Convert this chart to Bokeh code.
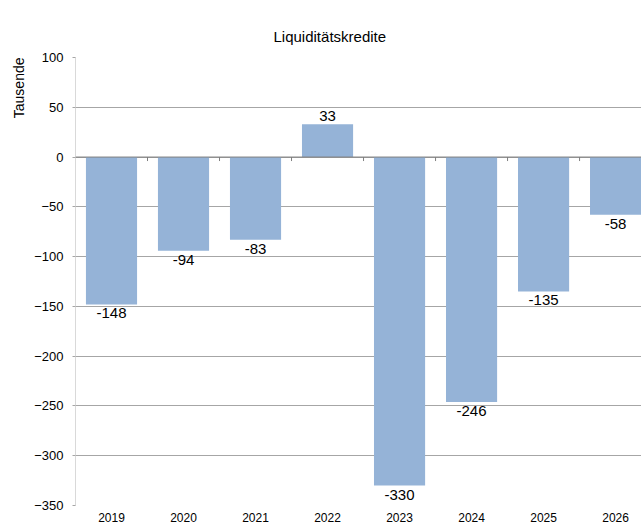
import numpy as np
from bokeh.plotting import figure
from bokeh.models import ColumnDataSource, Range1d, LabelSet, Span, FixedTicker, Title
from bokeh.core.properties import value
from bokeh.embed import file_html
from bokeh.resources import INLINE

title_text = "Liquiditätskredite"
y_label = "Tausende"
years = ["2019", "2020", "2021", "2022", "2023", "2024", "2025", "2026"]
values = [-148, -94, -83, 33, -330, -246, -135, -58]
y_ticks = [-350, -300, -250, -200, -150, -100, -50, 0, 50, 100]

FONT = "Liberation Sans"
BAR = "#95b3d7"
GRID = "#a6a6a6"

xs = np.arange(len(years))
vals = np.array(values)
src = ColumnDataSource(dict(
    x=xs, v=vals, lab=[str(v) for v in values],
    base=["top" if v < 0 else "bottom" for v in values],
    off=[-4 if v < 0 else 3 for v in values],
))

p = figure(output_backend="svg", toolbar_location=None,
           frame_width=566, frame_height=448,
           min_border_left=75, min_border_top=57, min_border_right=0, min_border_bottom=0,
           x_range=Range1d(-0.5, 7.36), y_range=Range1d(-350, 100),
           background_fill_color="white", border_fill_color="white")
p.outline_line_color = None

p.title.text = title_text
p.title.align = "left"
p.title.offset = 198
p.title.standoff = 26
p.title.text_font = FONT
p.title.text_font_size = "15px"
p.title.text_font_style = "normal"
p.title.text_color = "#000000"

p.add_layout(Title(text=y_label, align="right", offset=0, text_font=FONT,
                   text_font_size="14px", text_font_style="normal", text_color="#000000"),
             "left")

p.vbar(x="x", top="v", bottom=0, width=0.71, source=src, fill_color=BAR, line_color=None)

# zero line and category boundary ticks
p.add_layout(Span(location=0, dimension="width", line_color="#7f7f7f", line_width=1))
bounds = np.append(xs - 0.5, xs[-1] + 0.5)
p.segment(x0=bounds, y0=np.zeros(len(bounds)), x1=bounds, y1=np.full(len(bounds), -4.0),
          line_color="#7f7f7f", line_width=1)

labels = LabelSet(x="x", y="v", text="lab", source=src, text_align="center",
                  text_baseline="base", y_offset="off",
                  text_font=value(FONT), text_font_size=value("15px"),
                  text_color="#000000")
p.add_layout(labels)

# axes
p.xaxis.ticker = FixedTicker(ticks=list(xs))
p.xaxis.major_label_overrides = {int(i): y for i, y in zip(xs, years)}
p.xaxis.axis_line_color = None
p.xaxis.major_tick_line_color = None
p.xaxis.minor_tick_line_color = None
p.xaxis.major_label_standoff = 1
p.xaxis.major_label_text_font = FONT
p.xaxis.major_label_text_font_size = "12px"
p.xaxis.major_label_text_color = "#000000"

p.yaxis.ticker = FixedTicker(ticks=y_ticks)
p.yaxis.axis_line_color = "#d9d9d9"
p.yaxis.major_tick_line_color = GRID
p.yaxis.major_tick_out = 3
p.yaxis.major_tick_in = 0
p.yaxis.minor_tick_line_color = None
p.yaxis.major_label_standoff = 9
p.yaxis.major_label_text_font = FONT
p.yaxis.major_label_text_font_size = "13px"
p.yaxis.major_label_text_color = "#000000"

p.xgrid.grid_line_color = None
p.ygrid.grid_line_color = GRID
p.ygrid.grid_line_width = 1

open("out.html", "w").write(file_html(p, INLINE))
